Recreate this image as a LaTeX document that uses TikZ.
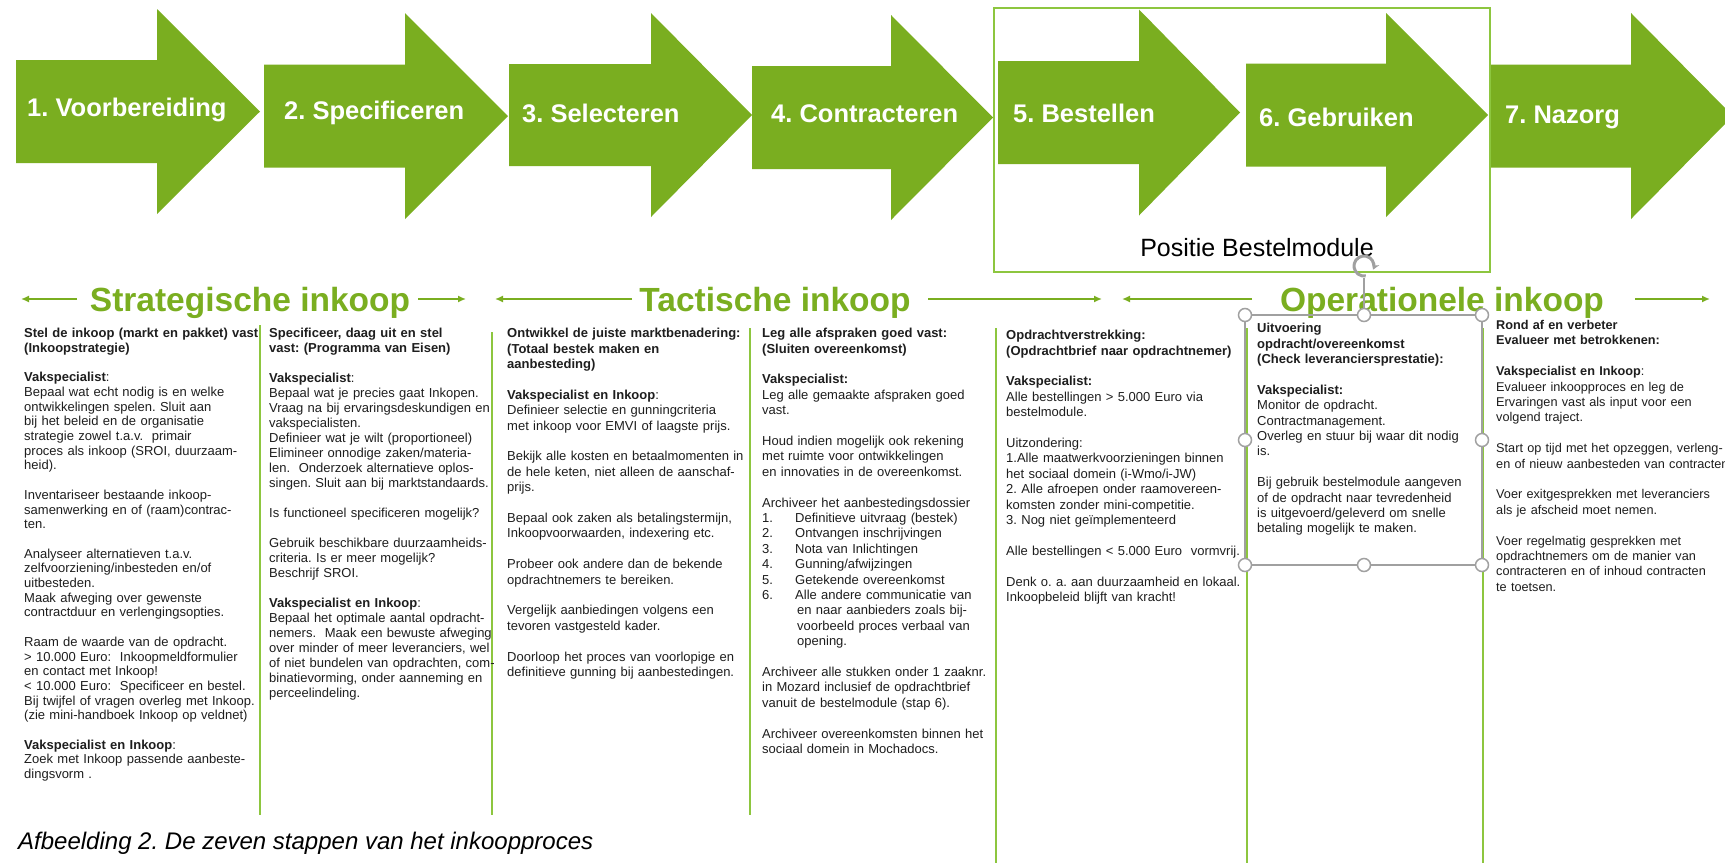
\documentclass[tikz,border=0pt]{standalone}
\usepackage{fontspec}
\setmainfont{Liberation Sans}
\usetikzlibrary{arrows.meta}
\definecolor{agreen}{RGB}{122,174,32}
\definecolor{lgreen}{RGB}{141,198,63}
\definecolor{selgray}{RGB}{160,160,160}
\definecolor{txt}{RGB}{30,30,30}
\newlength{\pitch}
\newcommand{\skipl}{\\[\pitch]}
\newcommand{\li}[1]{\makebox[33pt][l]{#1}}
\newcommand{\steparrow}[6]{% L, B, T, cy, bh, hh
  \fill[agreen] (#1,#4-#5) -- (#2,#4-#5) -- (#2,#4-#6) -- (#3,#4) -- (#2,#4+#6) -- (#2,#4+#5) -- (#1,#4+#5) -- cycle;}
\tikzset{
  steplabel/.style={anchor=west, text=white, font=\bfseries\fontsize{25.5}{30}\selectfont, inner sep=0},
  phase/.style={text=agreen, font=\bfseries\fontsize{33.5}{40}\selectfont, inner sep=0, anchor=base},
  phasearrow/.style={draw=agreen, line width=1.5pt, -{Latex[length=8pt,width=7pt]}},
  colline/.style={draw=lgreen, line width=2pt},
  coltext/.style={anchor=north west, inner sep=0, text width=280pt, align=left, text=txt,
    font={\fontsize{13}{#1}\selectfont\setlength{\pitch}{#1}}},
  handle/.style={circle, draw=selgray, fill=white, line width=1.5pt, minimum size=13pt, inner sep=0},
}
\begin{document}
\frenchspacing
\begin{tikzpicture}[x=1pt,y=-1pt]
\useasboundingbox[fill=white] (0,0) rectangle (1725,863);

% step arrows
\steparrow{16}{157}{260}{111.5}{51.5}{102.5}
\steparrow{264}{405}{508}{116}{51.5}{103}
\steparrow{509}{651}{752}{115}{51}{102}
\steparrow{752}{891}{993}{117.5}{51.5}{102.5}
\steparrow{998}{1139}{1240}{112.5}{51.5}{103}
\steparrow{1246}{1386}{1488}{115}{51.5}{102}
\steparrow{1491}{1631}{1733}{116}{51.5}{103}

\node[steplabel] (s1) at (27,110) {1. Voorbereiding};
\node[steplabel] (s2) at (284,113) {2. Specificeren};
\node[steplabel] (s3) at (522,113) {3. Selecteren};
\node[steplabel] (s4) at (771,114) {4. Contracteren};
\node[steplabel] (s5) at (1013,113) {5. Bestellen};
\node[steplabel] (s6) at (1259,117) {6. Gebruiken};
\node[steplabel] (s7) at (1505,117) {7. Nazorg};

% Positie Bestelmodule box
\draw[lgreen, line width=1.5pt] (994,8) rectangle (1490,272);
\node[inner sep=0, font=\fontsize{25}{30}\selectfont, text=black] (pos) at (1257,248) {Positie Bestelmodule};

% phase titles
\node[phase] (strat) at (250,311) {Strategische inkoop};
\node[phase] (tact) at (775,311) {Tactische inkoop};
\node[phase] (oper) at (1442,311) {Operationele inkoop};

\coordinate (sa1) at (77,299); \coordinate (sa2) at (21,299);
\coordinate (sb1) at (418,299); \coordinate (sb2) at (466,299);
\coordinate (ta1) at (632,299); \coordinate (ta2) at (495,299);
\coordinate (tb1) at (928,299); \coordinate (tb2) at (1102,299);
\coordinate (oa1) at (1252,299); \coordinate (oa2) at (1122,299);
\coordinate (ob1) at (1635,299); \coordinate (ob2) at (1710,299);
\draw[phasearrow] (sa1) -- (sa2);
\draw[phasearrow] (sb1) -- (sb2);
\draw[phasearrow] (ta1) -- (ta2);
\draw[phasearrow] (tb1) -- (tb2);
\draw[phasearrow] (oa1) -- (oa2);
\draw[phasearrow] (ob1) -- (ob2);

% column lines
\draw[colline] (260,325) -- (260,815);
\draw[colline] (492,332) -- (492,815);
\draw[colline] (750,328) -- (750,815);
\draw[colline] (996,328) -- (996,863);
\draw[colline] (1247,328) -- (1247,863);
\draw[colline] (1483,328) -- (1483,863);

% column texts
\node[coltext=14.7pt] (c1) at (24,328) {%
\textbf{Stel de inkoop (markt en pakket) vast}\\
\textbf{(Inkoopstrategie)}\skipl
\textbf{Vakspecialist}:\\
Bepaal wat echt nodig is en welke\\
ontwikkelingen spelen. Sluit aan\\
bij het beleid en de organisatie\\
strategie zowel t.a.v.\ \ primair\\
proces als inkoop (SROI, duurzaam-\\
heid).\skipl
Inventariseer bestaande inkoop-\\
samenwerking en of (raam)contrac-\\
ten.\skipl
Analyseer alternatieven t.a.v.\\
zelfvoorziening/inbesteden en/of\\
uitbesteden.\\
Maak afweging over gewenste\\
contractduur en verlengingsopties.\skipl
Raam de waarde van de opdracht.\\
> 10.000 Euro:\ \ Inkoopmeldformulier\\
en contact met Inkoop!\\
< 10.000 Euro:\ \ Specificeer en bestel.\\
Bij twijfel of vragen overleg met Inkoop.\\
(zie mini-handboek Inkoop op veldnet)\skipl
\textbf{Vakspecialist en Inkoop}:\\
Zoek met Inkoop passende aanbeste-\\
dingsvorm .};

\node[coltext=15pt] (c2) at (269,328) {%
\textbf{Specificeer, daag uit en stel}\\
\textbf{vast: (Programma van Eisen)}\skipl
\textbf{Vakspecialist}:\\
Bepaal wat je precies gaat Inkopen.\\
Vraag na bij ervaringsdeskundigen en\\
vakspecialisten.\\
Definieer wat je wilt (proportioneel)\\
Elimineer onnodige zaken/materia-\\
len.\ \ Onderzoek alternatieve oplos-\\
singen. Sluit aan bij marktstandaards.\skipl
Is functioneel specificeren mogelijk?\skipl
Gebruik beschikbare duurzaamheids-\\
criteria. Is er meer mogelijk?\\
Beschrijf SROI.\skipl
\textbf{Vakspecialist en Inkoop}:\\
Bepaal het optimale aantal opdracht-\\
nemers.\ \ Maak een bewuste afweging\\
over minder of meer leveranciers, wel\\
of niet bundelen van opdrachten, com-\\
binatievorming, onder aanneming en\\
perceelindeling.};

\node[coltext=15.4pt] (c3) at (507,328) {%
\textbf{Ontwikkel de juiste marktbenadering:}\\
\textbf{(Totaal bestek maken en}\\
\textbf{aanbesteding)}\skipl
\textbf{Vakspecialist en Inkoop}:\\
Definieer selectie en gunningcriteria\\
met inkoop voor EMVI of laagste prijs.\skipl
Bekijk alle kosten en betaalmomenten in\\
de hele keten, niet alleen de aanschaf-\\
prijs.\skipl
Bepaal ook zaken als betalingstermijn,\\
Inkoopvoorwaarden, indexering etc.\skipl
Probeer ook andere dan de bekende\\
opdrachtnemers te bereiken.\skipl
Vergelijk aanbiedingen volgens een\\
tevoren vastgesteld kader.\skipl
Doorloop het proces van voorlopige en\\
definitieve gunning bij aanbestedingen.};

\node[coltext=15.4pt] (c4) at (762,328) {%
\textbf{Leg alle afspraken goed vast:}\\
\textbf{(Sluiten overeenkomst)}\skipl
\textbf{Vakspecialist:}\\
Leg alle gemaakte afspraken goed\\
vast.\skipl
Houd indien mogelijk ook rekening\\
met ruimte voor ontwikkelingen\\
en innovaties in de overeenkomst.\skipl
Archiveer het aanbestedingsdossier\\
\li{1.}Definitieve uitvraag (bestek)\\
\li{2.}Ontvangen inschrijvingen\\
\li{3.}Nota van Inlichtingen\\
\li{4.}Gunning/afwijzingen\\
\li{5.}Getekende overeenkomst\\
\li{6.}Alle andere communicatie van\\
\hspace*{35pt}en naar aanbieders zoals bij-\\
\hspace*{35pt}voorbeeld proces verbaal van\\
\hspace*{35pt}opening.\skipl
Archiveer alle stukken onder 1 zaaknr.\\
in Mozard inclusief de opdrachtbrief\\
vanuit de bestelmodule (stap 6).\skipl
Archiveer overeenkomsten binnen het\\
sociaal domein in Mochadocs.};

\node[coltext=15.4pt] (c5) at (1006,330) {%
\textbf{Opdrachtverstrekking:}\\
\textbf{(Opdrachtbrief naar opdrachtnemer)}\skipl
\textbf{Vakspecialist:}\\
Alle bestellingen > 5.000 Euro via\\
bestelmodule.\skipl
Uitzondering:\\
1.Alle maatwerkvoorzieningen binnen\\
het sociaal domein (i-Wmo/i-JW)\\
2. Alle afroepen onder raamovereen-\\
komsten zonder mini-competitie.\\
3. Nog niet geïmplementeerd\skipl
Alle bestellingen < 5.000 Euro\ \ vormvrij.\skipl
Denk o. a. aan duurzaamheid en lokaal.\\
Inkoopbeleid blijft van kracht!};

% selection box around column 6
\draw[selgray, line width=1.5pt] (1245,315) rectangle (1482,565);
\draw[selgray, line width=1.5pt] (1364,278) -- (1364,315);
\draw[selgray, line width=3pt, -{Stealth[length=6pt,width=8pt]}] (1364,266) ++(80:10) arc[start angle=80, end angle=380, radius=10];
\node[handle] (h1) at (1245,315) {};
\node[handle] (h2) at (1364,315) {};
\node[handle] (h3) at (1482,315) {};
\node[handle] (h4) at (1245,440) {};
\node[handle] (h5) at (1482,440) {};
\node[handle] (h6) at (1245,565) {};
\node[handle] (h7) at (1364,565) {};
\node[handle] (h8) at (1482,565) {};

\node[coltext=15.4pt] (c6) at (1257,323) {%
\textbf{Uitvoering}\\
\textbf{opdracht/overeenkomst}\\
\textbf{(Check leveranciersprestatie):}\skipl
\textbf{Vakspecialist:}\\
Monitor de opdracht.\\
Contractmanagement.\\
Overleg en stuur bij waar dit nodig\\
is.\skipl
Bij gebruik bestelmodule aangeven\\
of de opdracht naar tevredenheid\\
is uitgevoerd/geleverd om snelle\\
betaling mogelijk te maken.};

\node[coltext=15.4pt, font={\fontsize{12.7}{15.4}\selectfont\setlength{\pitch}{15.4pt}}] (c7) at (1496,320) {%
\textbf{Rond af en verbeter}\\
\textbf{Evalueer met betrokkenen:}\skipl
\textbf{Vakspecialist en Inkoop}:\\
Evalueer inkoopproces en leg de\\
Ervaringen vast als input voor een\\
volgend traject.\skipl
Start op tijd met het opzeggen, verleng-\\
en of nieuw aanbesteden van contracten\skipl
Voer exitgesprekken met leveranciers\\
als je afscheid moet nemen.\skipl
Voer regelmatig gesprekken met\\
opdrachtnemers om de manier van\\
contracteren en of inhoud contracten\\
te toetsen.};

% caption
\node[anchor=base west, inner sep=0, font=\itshape\fontsize{24}{28}\selectfont, text=black] (cap) at (18,849) {Afbeelding 2. De zeven stappen van het inkoopproces};
\end{tikzpicture}
\end{document}
